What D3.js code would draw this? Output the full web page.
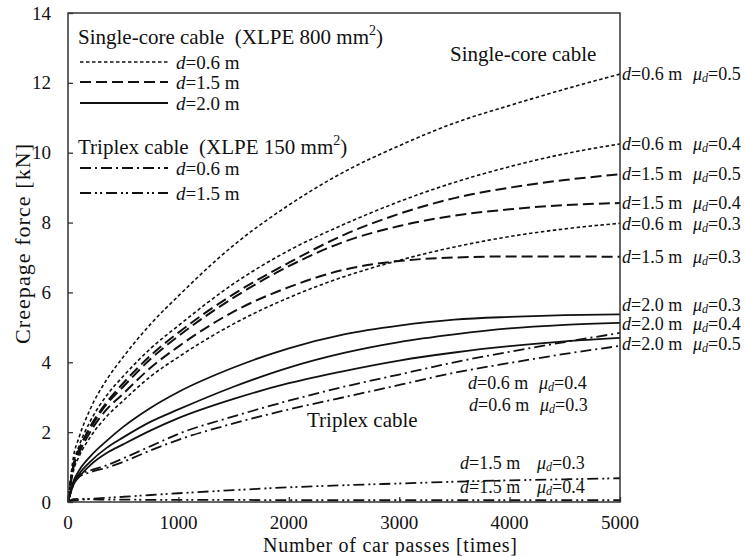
<!DOCTYPE html>
<html>
<head>
<meta charset="utf-8">
<script src="https://cdn.jsdelivr.net/npm/d3@7"></script>
<style>
  body { margin: 0; background: #fff; }
  svg text { font-family: "Liberation Serif", "Times New Roman", serif; fill: #111; white-space: pre; }
</style>
</head>
<body>
<svg id="chart" width="745" height="556"></svg>
<script>
// number of car passes (x) at which values were read
var passes = [0, 50, 100, 200, 350, 500, 750, 1000, 1500, 2000, 2500, 3000, 3500, 4000, 4500, 5000];

// single-core cable (XLPE 800 mm2)
var sc06mu05 = [0, 1.3, 1.85, 2.65, 3.5, 4.15, 5.1, 5.9, 7.35, 8.5, 9.45, 10.2, 10.85, 11.35, 11.82, 12.25];
var sc06mu04 = [0, 1.1, 1.6, 2.3, 3.05, 3.6, 4.4, 5.05, 6.25, 7.2, 7.95, 8.6, 9.15, 9.6, 9.97, 10.25];
var sc06mu03 = [0, 0.9, 1.3, 1.85, 2.45, 2.9, 3.6, 4.15, 5.1, 5.85, 6.45, 6.92, 7.3, 7.6, 7.82, 7.98];
var sc15mu05 = [0, 1.05, 1.5, 2.15, 2.85, 3.4, 4.2, 4.85, 5.95, 6.85, 7.65, 8.25, 8.7, 9.0, 9.22, 9.38];
var sc15mu04 = [0, 1.05, 1.5, 2.1, 2.8, 3.3, 4.1, 4.75, 5.85, 6.75, 7.45, 7.9, 8.2, 8.38, 8.5, 8.56];
var sc15mu03 = [0, 1.0, 1.4, 2.0, 2.65, 3.1, 3.85, 4.45, 5.45, 6.15, 6.65, 6.9, 7.0, 7.03, 7.03, 7.02];
var sc20mu03 = [0, 0.6, 0.9, 1.3, 1.75, 2.15, 2.7, 3.15, 3.85, 4.4, 4.8, 5.05, 5.22, 5.3, 5.35, 5.37];
var sc20mu04 = [0, 0.55, 0.8, 1.15, 1.55, 1.85, 2.3, 2.65, 3.3, 3.85, 4.27, 4.58, 4.8, 4.97, 5.07, 5.13];
var sc20mu05 = [0, 0.5, 0.72, 1.05, 1.4, 1.65, 2.05, 2.4, 2.95, 3.4, 3.75, 4.05, 4.28, 4.46, 4.6, 4.7];

// triplex cable (XLPE 150 mm2)
var tp06mu04 = [0, 0.55, 0.78, 0.9, 1.05, 1.25, 1.6, 1.95, 2.45, 2.9, 3.3, 3.65, 4.0, 4.3, 4.58, 4.84];
var tp06mu03 = [0, 0.5, 0.72, 0.85, 0.98, 1.15, 1.48, 1.78, 2.25, 2.65, 3.0, 3.35, 3.7, 3.98, 4.24, 4.47];
var tp15mu03 = [0, 0.04, 0.06, 0.09, 0.12, 0.15, 0.2, 0.25, 0.34, 0.42, 0.48, 0.53, 0.58, 0.62, 0.65, 0.68];
var tp15mu04 = [0, 0.08, 0.09, 0.08, 0.07, 0.07, 0.06, 0.06, 0.06, 0.05, 0.05, 0.05, 0.05, 0.05, 0.05, 0.05];

var xTicks = [0, 1000, 2000, 3000, 4000, 5000];
var yTicks = [0, 2, 4, 6, 8, 10, 12, 14];

// line styles per cable / depth
var styles = {
  sc06: { dash: '3.5,2.5', w: 1.6 },
  sc15: { dash: '11,5', w: 2 },
  sc20: { dash: null, w: 1.8 },
  tp06: { dash: '11,4,2,4', w: 1.8 },
  tp15: { dash: '11,4,2,3,2,4', w: 1.8 }
};

// dy = nudge of the right-hand label away from the line end
var series = [
  { v: sc06mu05, s: 'sc06', d: '0.6', mu: '0.5', dy: 0 },
  { v: sc06mu04, s: 'sc06', d: '0.6', mu: '0.4', dy: 0 },
  { v: sc06mu03, s: 'sc06', d: '0.6', mu: '0.3', dy: 1 },
  { v: sc15mu05, s: 'sc15', d: '1.5', mu: '0.5', dy: 0 },
  { v: sc15mu04, s: 'sc15', d: '1.5', mu: '0.4', dy: 0 },
  { v: sc15mu03, s: 'sc15', d: '1.5', mu: '0.3', dy: 0 },
  { v: sc20mu03, s: 'sc20', d: '2.0', mu: '0.3', dy: -9 },
  { v: sc20mu04, s: 'sc20', d: '2.0', mu: '0.4', dy: 1 },
  { v: sc20mu05, s: 'sc20', d: '2.0', mu: '0.5', dy: 6 },
  { v: tp06mu04, s: 'tp06', d: '0.6', mu: '0.4', label: false },
  { v: tp06mu03, s: 'tp06', d: '0.6', mu: '0.3', label: false },
  { v: tp15mu03, s: 'tp15', d: '1.5', mu: '0.3', label: false },
  { v: tp15mu04, s: 'tp15', d: '1.5', mu: '0.4', label: false }
];

var svg = d3.select('#chart');
var mLeft = 68, mRight = 620, mTop = 13, mBottom = 502;

var x = d3.scaleLinear().domain([0, 5000]).range([mLeft, mRight]);
var y = d3.scaleLinear().domain([0, 14]).range([mBottom, mTop]);

// curves
var line = d3.line()
  .x(function (d, i) { return x(passes[i]); })
  .y(function (d) { return y(d); })
  .curve(d3.curveMonotoneX);

svg.append('g').selectAll('path')
  .data(series)
  .enter()
  .append('path')
  .attr('d', function (d) { return line(d.v); })
  .attr('fill', 'none')
  .attr('stroke', '#111')
  .attr('stroke-width', function (d) { return styles[d.s].w; })
  .attr('stroke-dasharray', function (d) { return styles[d.s].dash; });

// frame
svg.append('rect')
  .attr('x', mLeft).attr('y', mTop)
  .attr('width', mRight - mLeft).attr('height', mBottom - mTop)
  .attr('fill', 'none').attr('stroke', '#333').attr('stroke-width', 1.5);

// axes, ticks pointing inward
var xAxis = svg.append('g')
  .attr('transform', 'translate(0,' + mBottom + ')')
  .call(d3.axisTop(x).tickValues(xTicks).tickSize(5).tickFormat(''));
var yAxis = svg.append('g')
  .attr('transform', 'translate(' + mLeft + ',0)')
  .call(d3.axisRight(y).tickValues(yTicks).tickSize(5).tickFormat(''));
[xAxis, yAxis].forEach(function (a) {
  a.select('.domain').remove();
  a.selectAll('line').attr('stroke', '#333').attr('stroke-width', 1.3);
});

svg.append('g').selectAll('text')
  .data(xTicks).enter().append('text')
  .attr('x', function (d) { return x(d); })
  .attr('y', 522)
  .attr('text-anchor', 'middle')
  .attr('dominant-baseline', 'central')
  .attr('font-size', 19)
  .text(function (d) { return d; });

svg.append('g').selectAll('text')
  .data(yTicks).enter().append('text')
  .attr('x', 51)
  .attr('y', function (d) { return y(d); })
  .attr('text-anchor', 'end')
  .attr('dominant-baseline', 'central')
  .attr('font-size', 19)
  .text(function (d) { return d; });

svg.append('text')
  .attr('x', 390).attr('y', 545)
  .attr('text-anchor', 'middle').attr('dominant-baseline', 'central')
  .attr('font-size', 20)
  .attr('textLength', 254).attr('lengthAdjust', 'spacing')
  .text('Number of car passes [times]');

svg.append('text')
  .attr('transform', 'translate(22,' + 244 + ') rotate(-90)')
  .attr('text-anchor', 'middle').attr('dominant-baseline', 'central')
  .attr('font-size', 22)
  .attr('textLength', 200).attr('lengthAdjust', 'spacing')
  .text('Creepage force [kN]');

// label helper: d=0.6 m  mu_d=0.5
function addLabel(g, px, py, dVal, muVal, muOffset) {
  var t = g.append('text')
    .attr('x', px).attr('y', py)
    .attr('dominant-baseline', 'central')
    .attr('font-size', 18);
  t.append('tspan').attr('font-style', 'italic').text('d');
  t.append('tspan').text('=' + dVal + ' m');
  t.append('tspan').attr('x', px + muOffset).attr('font-style', 'italic').text('\u03bc');
  t.append('tspan').attr('font-style', 'italic').attr('font-size', 12).attr('dy', 4).text('d');
  t.append('tspan').attr('dy', -4).text('=' + muVal);
}

var labels = svg.append('g');
series.forEach(function (s) {
  if (s.label === false) return;
  addLabel(labels, mRight + 2, y(s.v[s.v.length - 1]) + s.dy, s.d, s.mu, 71);
});
// triplex labels inside the plot
addLabel(labels, 468, 383, '0.6', '0.4', 71);
addLabel(labels, 469, 405, '0.6', '0.3', 71);
addLabel(labels, 460, 463, '1.5', '0.3', 77);
addLabel(labels, 460, 487, '1.5', '0.4', 77);

svg.append('text').attr('x', 450).attr('y', 54)
  .attr('dominant-baseline', 'central').attr('font-size', 21)
  .text('Single-core cable');
svg.append('text').attr('x', 307).attr('y', 420)
  .attr('dominant-baseline', 'central').attr('font-size', 21)
  .text('Triplex cable');

// legend
var legend = svg.append('g');
function legendTitle(py, name, size) {
  var t = legend.append('text').attr('x', 78).attr('y', py)
    .attr('dominant-baseline', 'central').attr('font-size', 21);
  t.append('tspan').text(name + '  (XLPE ' + size + ' mm');
  t.append('tspan').attr('font-size', 14).attr('dy', -7).text('2');
  t.append('tspan').attr('dy', 7).text(')');
}
function legendRow(py, key, dVal) {
  legend.append('line')
    .attr('x1', 80).attr('x2', 168).attr('y1', py).attr('y2', py)
    .attr('stroke', '#111')
    .attr('stroke-width', styles[key].w)
    .attr('stroke-dasharray', styles[key].dash);
  var t = legend.append('text').attr('x', 176).attr('y', py)
    .attr('dominant-baseline', 'central').attr('font-size', 19);
  t.append('tspan').attr('font-style', 'italic').text('d');
  t.append('tspan').text('=' + dVal + ' m');
}
legendTitle(37, 'Single-core cable', '800');
legendRow(62, 'sc06', '0.6');
legendRow(82, 'sc15', '1.5');
legendRow(103, 'sc20', '2.0');
legendTitle(147, 'Triplex cable', '150');
legendRow(168, 'tp06', '0.6');
legendRow(193, 'tp15', '1.5');
</script>
</body>
</html>
